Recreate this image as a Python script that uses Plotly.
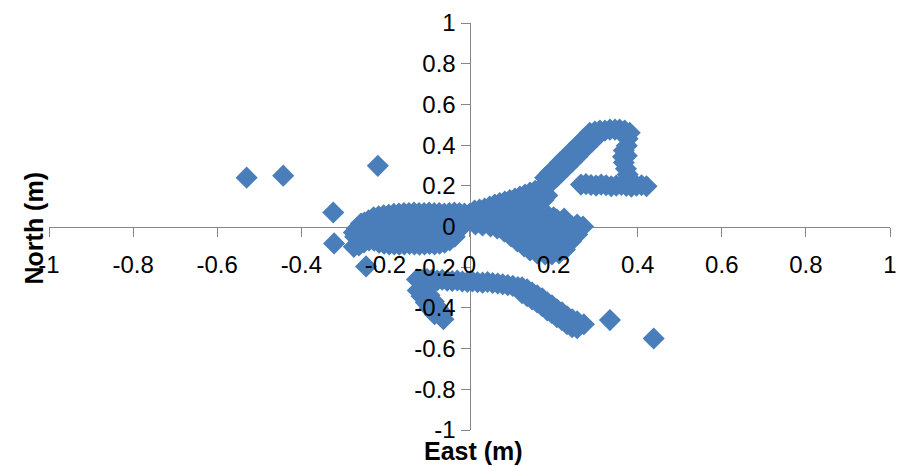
import plotly.graph_objects as go

# Antenna position scatter: East / North offsets in metres

# Western half of the central cluster
west_core_e = [-0.258, -0.240, -0.228, -0.216, -0.204, -0.192, -0.180, -0.168, -0.156, -0.144, -0.132,
               -0.120, -0.108, -0.096, -0.084, -0.072, -0.060, -0.048, -0.036, -0.024, -0.012, 0.000,
               -0.275, -0.272, -0.268,
               -0.250, -0.226, -0.202, -0.178, -0.154, -0.130, -0.106, -0.082, -0.058, -0.034, -0.010,
               -0.262, -0.238, -0.214, -0.190, -0.166, -0.142, -0.118, -0.094, -0.070, -0.046, -0.022,
               -0.275, -0.263, -0.251, -0.239, -0.227, -0.215, -0.203, -0.191, -0.179, -0.167, -0.155,
               -0.143, -0.131, -0.119, -0.107, -0.095, -0.083, -0.071, -0.059, -0.047, -0.035]
west_core_n = [0.015, 0.030, 0.045, 0.050, 0.055, 0.058, 0.062, 0.064, 0.066, 0.066, 0.068,
               0.066, 0.066, 0.068, 0.066, 0.066, 0.064, 0.066, 0.068, 0.066, 0.064, 0.062,
               -0.030, -0.050, -0.010,
               0.020, 0.018, 0.022, 0.020, 0.016, 0.020, 0.022, 0.018, 0.020, 0.022, 0.025,
               -0.035, -0.038, -0.032, -0.036, -0.034, -0.030, -0.036, -0.032, -0.034, -0.030, -0.010,
               -0.100, -0.093, -0.078, -0.068, -0.070, -0.080, -0.085, -0.088, -0.088, -0.090, -0.088,
               -0.086, -0.088, -0.090, -0.088, -0.086, -0.088, -0.085, -0.080, -0.068, -0.050]

# Eastern half of the central cluster
east_core_e = [0.012, 0.024, 0.036, 0.048, 0.060, 0.072, 0.084, 0.096, 0.108, 0.120, 0.132, 0.144, 0.156, 0.168,
               0.208, 0.225, 0.244, 0.256, 0.270,
               0.256, 0.241, 0.227, 0.213, 0.196, 0.180, 0.163, 0.149,
               0.014, 0.031, 0.050, 0.066, 0.083, 0.099, 0.114, 0.130, 0.144, 0.161,
               0.020, 0.044, 0.068, 0.092, 0.116, 0.140, 0.164, 0.188, 0.200,
               0.080, 0.104, 0.128, 0.152, 0.176,
               0.070, 0.094, 0.118, 0.142, 0.166, 0.190, 0.214, 0.238,
               0.120, 0.144, 0.168, 0.192, 0.216, 0.240,
               0.160, 0.184, 0.208]
east_core_n = [0.078, 0.083, 0.088, 0.098, 0.108, 0.115, 0.123, 0.130, 0.137, 0.147, 0.157, 0.167, 0.176, 0.186,
               0.034, 0.039, 0.000, 0.010, 0.000,
               -0.039, -0.074, -0.113, -0.132, -0.137, -0.137, -0.127, -0.103,
               0.010, 0.005, 0.000, -0.010, -0.025, -0.049, -0.074, -0.098, -0.118, -0.132,
               0.048, 0.052, 0.050, 0.054, 0.056, 0.052, 0.055, 0.050, 0.045,
               0.100, 0.104, 0.110, 0.120, 0.130,
               0.000, -0.004, 0.002, -0.002, 0.000, 0.004, 0.000, -0.004,
               -0.050, -0.052, -0.048, -0.054, -0.050, -0.046,
               -0.100, -0.104, -0.098]

# Northern loop: climb, top leg, return leg and lower leg
north_loop_e = [0.180, 0.192, 0.204, 0.215, 0.227, 0.239, 0.251, 0.263, 0.275, 0.286,
                0.185, 0.196, 0.208, 0.220, 0.232, 0.244, 0.256, 0.267, 0.279, 0.291, 0.303,
                0.298, 0.310, 0.322, 0.334, 0.346, 0.357, 0.369, 0.381,
                0.376, 0.374, 0.367, 0.365, 0.367, 0.372, 0.376, 0.374,
                0.265, 0.277, 0.289, 0.301, 0.313, 0.325, 0.337, 0.349, 0.361, 0.373, 0.385, 0.397, 0.409, 0.421]
north_loop_n = [0.240, 0.265, 0.289, 0.314, 0.338, 0.363, 0.387, 0.412, 0.436, 0.461,
                0.152, 0.221, 0.245, 0.270, 0.294, 0.319, 0.343, 0.368, 0.392, 0.417, 0.441,
                0.466, 0.471, 0.471, 0.476, 0.476, 0.476, 0.471, 0.461,
                0.431, 0.397, 0.373, 0.343, 0.314, 0.284, 0.255, 0.348,
                0.206, 0.208, 0.204, 0.201, 0.206, 0.203, 0.198, 0.201, 0.204, 0.199, 0.196, 0.201, 0.203, 0.198]

# Southern track and its western spur
south_track_e = [-0.125, -0.113, -0.101, -0.089, -0.077, -0.065, -0.053, -0.041, -0.029, -0.017, -0.005,
                 0.007, 0.019, 0.031, 0.043, 0.055, 0.067, 0.079, 0.091, 0.103, 0.115, 0.127,
                 0.125, 0.137, 0.149, 0.161, 0.173, 0.185, 0.196, 0.208, 0.220, 0.232, 0.244, 0.256, 0.272,
                 0.125, 0.137, 0.149, 0.161, 0.173, 0.185, 0.196, 0.208, 0.220, 0.232, 0.244, 0.256,
                 -0.123, -0.114, -0.104, -0.095, -0.083, -0.062,
                 -0.104, -0.095, -0.085, -0.076, -0.066]
south_track_n = [-0.260, -0.262, -0.258, -0.262, -0.265, -0.262, -0.266, -0.268, -0.265, -0.270, -0.272,
                 -0.270, -0.274, -0.276, -0.273, -0.278, -0.280, -0.284, -0.288, -0.292, -0.298, -0.306,
                 -0.299, -0.309, -0.324, -0.338, -0.353, -0.373, -0.387, -0.407, -0.422, -0.441, -0.456, -0.466, -0.480,
                 -0.328, -0.343, -0.358, -0.373, -0.392, -0.412, -0.426, -0.446, -0.461, -0.480, -0.495, -0.500,
                 -0.314, -0.343, -0.373, -0.402, -0.431, -0.456,
                 -0.309, -0.338, -0.368, -0.397, -0.422]

# Isolated fixes
outlier_e = [-0.530, -0.443, -0.218, -0.324, -0.322, -0.246, 0.334, 0.438]
outlier_n = [0.240, 0.250, 0.298, 0.069, -0.083, -0.196, -0.460, -0.550]

tick_vals = [-1, -0.8, -0.6, -0.4, -0.2, 0, 0.2, 0.4, 0.6, 0.8, 1]
tick_text = ["-1", "-0.8", "-0.6", "-0.4", "-0.2", "0", "0.2", "0.4", "0.6", "0.8", "1"]

east = west_core_e + east_core_e + north_loop_e + south_track_e + outlier_e
north = west_core_n + east_core_n + north_loop_n + south_track_n + outlier_n

FONT = "Liberation Sans, Arial, sans-serif"
AXIS_GREY = "#868686"

fig = go.Figure()
fig.add_trace(go.Scatter(
    x=east, y=north, mode="markers",
    marker=dict(symbol="diamond", size=17, color="#4a7ebb", line=dict(width=0)),
    hoverinfo="x+y",
))
# empty trace that carries the label-only overlay axes
fig.add_trace(go.Scatter(x=[], y=[], xaxis="x2", yaxis="y2", hoverinfo="skip"))

base = dict(
    range=[-1, 1], tickmode="array", tickvals=tick_vals, ticktext=tick_text,
    showgrid=False, zeroline=False, ticks="outside", ticklen=9, tickwidth=1,
    tickfont=dict(family=FONT, size=24, color="#000000"),
    anchor="free", position=0.5, fixedrange=True,
)

# axis lines and tick marks sit under the markers
line_x = dict(base, showline=True, linecolor=AXIS_GREY, linewidth=1, tickcolor=AXIS_GREY,
              showticklabels=False, layer="below traces")
line_y = dict(base, showline=True, linecolor=AXIS_GREY, linewidth=1, tickcolor=AXIS_GREY,
              showticklabels=False, layer="below traces")
# tick labels are printed over the markers
label_x = dict(base, showline=False, tickcolor="rgba(0,0,0,0)", overlaying="x",
               ticklabelstandoff=8, layer="above traces")
label_y = dict(base, showline=False, tickcolor="rgba(0,0,0,0)", overlaying="y",
               layer="above traces")

fig.update_layout(
    width=906, height=467,
    margin=dict(l=49, r=9, t=23, b=37),
    paper_bgcolor="white", plot_bgcolor="white",
    showlegend=False,
    xaxis=line_x, yaxis=line_y,
    xaxis2=label_x, yaxis2=label_y,
    annotations=[
        dict(text="<b>East (m)</b>", xref="paper", yref="paper", x=0.5, y=0,
             xanchor="center", yanchor="middle", xshift=4, yshift=-21, showarrow=False,
             font=dict(family=FONT, size=25, color="#000000")),
        dict(text="<b>North (m)</b>", xref="paper", yref="paper", x=0, y=0.5,
             xanchor="center", yanchor="middle", xshift=-16, yshift=-2, textangle=-90,
             showarrow=False, font=dict(family=FONT, size=25, color="#000000")),
    ],
)

fig.write_html("out.html")
